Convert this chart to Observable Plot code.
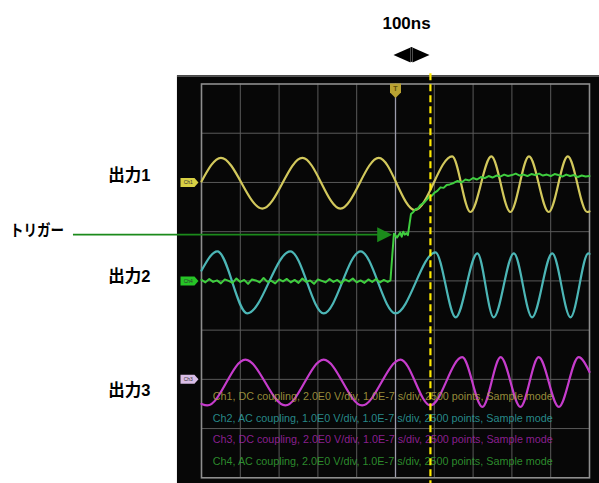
<!DOCTYPE html>
<html><head><meta charset="utf-8">
<script src="https://cdn.jsdelivr.net/npm/d3@7"></script>
<script src="https://cdn.jsdelivr.net/npm/@observablehq/plot@0.6"></script>
<style>html,body{margin:0;padding:0;background:#fff;overflow:hidden;}</style>
</head><body><div id="chart"></div>
<script>
// ---- data: time in ns (100 ns/div, trigger at 0), vertical in screen divisions ----
const gridTimes = [-500,-400,-300,-200,-100,0,100,200,300,400,500];
const gridDivs = [-4,-3,-2,-1,0,1,2,3,4];

const ch1Time = [-500,-450,-343,-240,-142,-43,50,146,193,247,296,344,395,444,494,500];
const ch1Div  = [2.02,2.50,1.47,2.50,1.47,2.50,1.44,2.53,1.40,2.53,1.40,2.53,1.40,2.53,1.40,1.41];

const ch2Time = [-500,-459,-382,-271,-185,-90,0,103,155,211,253,305,352,404,451,497,500];
const ch2Div  = [0.21,0.60,-0.66,0.60,-0.66,0.60,-0.66,0.58,-0.74,0.56,-0.74,0.56,-0.74,0.56,-0.74,0.56,0.55];

const ch3Time = [-500,-485,-387,-284,-185,-86,13,90,172,224,271,322,369,421,472,500];
const ch3Div  = [-2.50,-2.53,-1.60,-2.53,-1.60,-2.53,-1.60,-2.53,-1.55,-2.56,-1.55,-2.56,-1.55,-2.56,-1.55,-1.85];

const ch4Time = [-500,-490,-480,-470,-460,-450,-440,-430,-420,-410,-400,-390,-380,-370,-360,-350,-340,-330,-320,-310,-300,-290,-280,-270,-260,-250,-240,-230,-220,-210,-200,-190,-180,-170,-160,-150,-140,-130,-120,-110,-100,-90,-80,-70,-60,-50,-40,-30,-20,-13,-8,-4,0,4,8,12,16,20,24,28,32,36,40,46,52,58,64,70,76,82,88,94,100,108,116,124,132,140,150,160,170,180,190,200,210,220,230,240,250,260,270,280,290,300,310,320,330,340,350,360,370,380,390,400,410,420,430,440,450,460,470,480,490,500];
const ch4Div  = [0.02,-0.03,0.04,-0.02,0.01,-0.05,0.03,0.00,-0.04,0.05,-0.02,0.02,-0.06,0.03,0.01,-0.03,0.06,-0.02,0.00,-0.05,0.03,-0.01,0.04,-0.03,0.02,-0.04,0.05,-0.02,0.01,-0.06,0.03,0.00,-0.03,0.04,-0.02,0.02,-0.05,0.03,-0.01,0.05,-0.03,0.01,-0.04,0.03,-0.02,0.04,-0.03,0.02,-0.02,0.01,0.55,0.96,0.92,0.88,0.93,0.98,0.90,1.00,0.94,0.97,0.93,1.15,1.36,1.40,1.46,1.47,1.54,1.57,1.61,1.66,1.72,1.73,1.79,1.83,1.90,1.89,1.95,1.96,1.99,2.03,2.00,2.06,2.04,2.09,2.06,2.11,2.09,2.13,2.10,2.14,2.12,2.16,2.13,2.15,2.18,2.14,2.16,2.13,2.17,2.15,2.18,2.14,2.16,2.13,2.17,2.15,2.12,2.16,2.13,2.15,2.11,2.14,2.12,2.13];

const channelNames = ["Ch1","Ch2","Ch3","Ch4"];
const channelOffsets = [2, 0, -2, 0];   // tag levels (div)
const channelInfo = [
  "Ch1, DC coupling, 2.0E0 V/div, 1.0E-7 s/div, 2500 points, Sample mode",
  "Ch2, AC coupling, 1.0E0 V/div, 1.0E-7 s/div, 2500 points, Sample mode",
  "Ch3, DC coupling, 2.0E0 V/div, 1.0E-7 s/div, 2500 points, Sample mode",
  "Ch4, AC coupling, 2.0E0 V/div, 1.0E-7 s/div, 2500 points, Sample mode"
];
const outputLabels = ["出力1","出力2","出力3"];
const triggerLabel = "トリガー";
const spanLabel = "100ns";
const triggerTime = 0;
const cursorTime = 90;

// ---- layout / style ----
const traceColors = {Ch1:"#d2c85c", Ch2:"#4cb6b6", Ch3:"#c63ccc", Ch4:"#3fcd3f"};
const infoColors = ["#b2a443","#2ea2a2","#a424aa","#34a434"];
const tagColors = ["#d8d044", null, "#d9bde6", "#26c426"];
const outputLabelPos = [{x:-686,y:2.13},{x:-686,y:0.09},{x:-686,y:-2.23}];
const infoLines = channelInfo.map((t,i)=>({t, y:[-2.35,-2.79,-3.22,-3.67][i], c:infoColors[i]}));

const mk = (T,V)=>d3.zip(T,V).map(([t,v])=>({t,v}));
const ch1 = mk(ch1Time,ch1Div), ch2 = mk(ch2Time,ch2Div), ch3 = mk(ch3Time,ch3Div), ch4 = mk(ch4Time,ch4Div);

const tagSymbol = {draw(c){c.moveTo(-9,-4.5);c.lineTo(5,-4.5);c.lineTo(9,0);c.lineTo(5,4.5);c.lineTo(-9,4.5);c.closePath();}};
const headRight = {draw(c){c.moveTo(0,0);c.lineTo(-15,-7.5);c.lineTo(-15,7.5);c.closePath();}};
const spanLeft = {draw(c){c.moveTo(0,0);c.lineTo(17,-7.5);c.lineTo(17,7.5);c.closePath();}};
const spanRight = {draw(c){c.moveTo(0,0);c.lineTo(-17,-7.5);c.lineTo(-17,7.5);c.closePath();}};
const trigSymbol = {draw(c){c.moveTo(-5.5,-7);c.lineTo(5.5,-7);c.lineTo(5.5,2);c.lineTo(0,7.5);c.lineTo(-5.5,2);c.closePath();}};

const tags = channelNames.map((n,i)=>({n, y:channelOffsets[i], c:tagColors[i]})).filter(d=>d.c);
const innerT = gridTimes.filter(d=>d!==gridTimes[0] && d!==gridTimes[gridTimes.length-1] && d!==triggerTime);
const innerD = gridDivs.filter(d=>d!==gridDivs[0] && d!==gridDivs[gridDivs.length-1]);
const cjk = "Liberation Sans, 'Noto Sans CJK JP', sans-serif";

const chart = Plot.plot({
  width: 599, height: 483,
  marginLeft: 201, marginRight: 10, marginTop: 83.5, marginBottom: 5.7,
  x: {domain: [-500, 500], axis: null},
  y: {domain: [-4, 4], axis: null},
  style: {background: "#ffffff", overflow: "visible", fontFamily: "Liberation Sans, Arial, sans-serif"},
  marks: [
    Plot.rect([0], {x1: -562, x2: 535, y1: -4.2, y2: 4.17, fill: "#070707"}),
    Plot.ruleY([4.16], {x1: -562, x2: 535, stroke: "#6e6e6e", strokeWidth: 1.2}),
    Plot.ruleX(innerT, {x: d=>d, y1: -4, y2: 4, stroke: "#5a5a5a", strokeWidth: 1}),
    Plot.ruleY(innerD, {y: d=>d, x1: -500, x2: 500, stroke: "#5a5a5a", strokeWidth: 1}),
    Plot.ruleX([triggerTime], {x: d=>d, y1: -4, y2: 4, stroke: "#9c9cac", strokeWidth: 1.3}),
    Plot.frame({stroke: "#8e8e8e", strokeWidth: 1.6}),
    Plot.line(ch1, {x: "t", y: "v", stroke: traceColors.Ch1, strokeWidth: 2.2, curve: "monotone-x"}),
    Plot.line(ch2, {x: "t", y: "v", stroke: traceColors.Ch2, strokeWidth: 2.2, curve: "monotone-x"}),
    Plot.line(ch3, {x: "t", y: "v", stroke: traceColors.Ch3, strokeWidth: 2.2, curve: "monotone-x"}),
    Plot.line(ch4, {x: "t", y: "v", stroke: traceColors.Ch4, strokeWidth: 2, curve: "linear"}),
    Plot.dot(tags, {x: -531, y: "y", fill: "c", symbol: tagSymbol, r: 5}),
    Plot.text(tags, {x: -534, y: "y", text: "n", fill: "#333", fontSize: 5}),
    Plot.dot([triggerTime], {x: d=>d, y: 3.87, fill: "#b9a232", symbol: trigSymbol, r: 5}),
    Plot.text([triggerTime], {x: d=>d, y: 3.9, text: ()=>"T", fill: "#5c4c08", fontSize: 7, fontWeight: "bold"}),
    Plot.text(infoLines, {x: -471, y: "y", text: "t", fill: "c", textAnchor: "start", fontSize: 11, fillOpacity: 0.85}),
    Plot.ruleX([cursorTime], {x: d=>d, y1: -4.2, y2: 4.24, stroke: "#ffea00", strokeWidth: 2.2, strokeDasharray: "7,4"}),
    // annotations outside the screen
    Plot.text(outputLabels, {x: (d,i)=>outputLabelPos[i].x, y: (d,i)=>outputLabelPos[i].y, text: d=>d, fontSize: 16.5, fontWeight: "bold", fill: "#000", fontFamily: cjk}),
    Plot.text([triggerLabel], {x: -924, y: 1.02, text: d=>d, fontSize: 16, fontWeight: "bold", fill: "#000", fontFamily: cjk}),
    Plot.ruleY([0.94], {y: d=>d, x1: -830, x2: -30, stroke: "#1b8a1b", strokeWidth: 1.6}),
    Plot.dot([-8.5], {x: d=>d, y: 0.94, symbol: headRight, fill: "#1b8a1b", r: 5}),
    Plot.text([spanLabel], {x: 28.4, y: 5.22, text: d=>d, fontSize: 17, fontWeight: "bold", fill: "#000"}),
    Plot.dot([-5.2], {x: d=>d, y: 4.59, symbol: spanLeft, fill: "#000", r: 5}),
    Plot.dot([87.6], {x: d=>d, y: 4.59, symbol: spanRight, fill: "#000", r: 5}),
    Plot.ruleX([41.2], {x: d=>d, y1: 4.44, y2: 4.74, stroke: "#000", strokeWidth: 1.8})
  ]
});
document.getElementById("chart").appendChild(chart);
chart.querySelectorAll("text").forEach(el => {
  if (channelInfo.includes(el.textContent)) {
    el.setAttribute("textLength", 340);
    el.setAttribute("lengthAdjust", "spacingAndGlyphs");
  }
  if (el.textContent === triggerLabel) {
    el.setAttribute("textLength", 54);
    el.setAttribute("lengthAdjust", "spacingAndGlyphs");
  }
});
</script></body></html>
